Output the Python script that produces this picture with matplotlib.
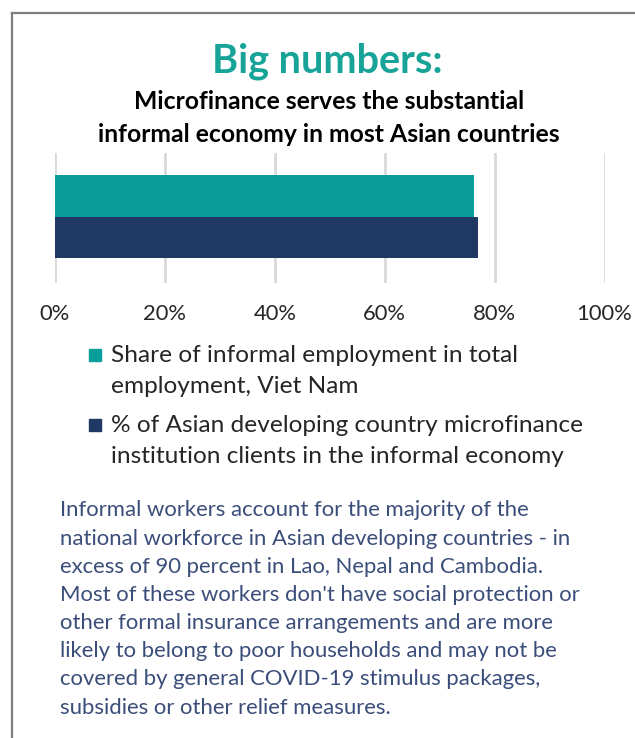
import matplotlib.pyplot as plt
from matplotlib.patches import Rectangle
from matplotlib.lines import Line2D

plt.rcParams['font.family'] = ['Lato', 'DejaVu Sans']

W, H = 635, 738

series = ["Share of informal employment in total\nemployment, Viet Nam",
          "% of Asian developing country microfinance\ninstitution clients in the informal economy"]
values = [76.2, 77.0]
colors = ["#0A9E9A", "#203864"]
ticks = [0, 20, 40, 60, 80, 100]
tick_labels = ["0%", "20%", "40%", "60%", "80%", "100%"]

title = "Big numbers:"
subtitle = "Microfinance serves the substantial\ninformal economy in most Asian countries"
note = ("Informal workers account for the majority of the\n"
        "national workforce in Asian developing countries - in\n"
        "excess of 90 percent in Lao, Nepal and Cambodia.\n"
        "Most of these workers don't have social protection or\n"
        "other formal insurance arrangements and are more\n"
        "likely to belong to poor households and may not be\n"
        "covered by general COVID-19 stimulus packages,\n"
        "subsidies or other relief measures.")


def fx(x):
    return x / W


def fy(y):
    return 1 - y / H


fig = plt.figure(figsize=(W / 100, H / 100), dpi=100)

# frame (only top and left visible)
fig.add_artist(Line2D([fx(12), fx(12)], [fy(13), 0], color="#7f7f7f", lw=1.6))
fig.add_artist(Line2D([fx(12), 1], [fy(13), fy(13)], color="#7f7f7f", lw=1.6))

fig.text(fx(327), fy(61), title, ha="center", va="center",
         color="#17A398", fontsize=28.5, fontweight="bold")
fig.text(fx(329), fy(118), subtitle, ha="center", va="center",
         color="black", fontsize=17.8, fontweight="bold", linespacing=1.49)

ax = fig.add_axes([fx(55), fy(283), fx(604.5) - fx(55), (283 - 153) / H])
ypos = [1, 0]
ax.barh(ypos, values, height=1.0, color=colors)
ax.set_xlim(0, 100)
ax.set_ylim(-1.11, 2.04)
ax.set_xticks(ticks)
ax.set_xticklabels(tick_labels, fontsize=15.8, color="#262626")
ax.set_yticks([])
ax.grid(axis="x", color="#d9d9d9", lw=2)
ax.set_axisbelow(True)
ax.tick_params(axis="x", length=0, pad=15)
for s in ax.spines.values():
    s.set_visible(False)

# legend
leg_y = [371, 441]
for y, c, lab in zip(leg_y, colors, series):
    fig.add_artist(Rectangle((fx(89), fy(y - 10)), 12 / W, 12 / H,
                             color=c, transform=fig.transFigure))
    fig.text(fx(111), fy(y), lab, ha="left", va="center",
             fontsize=17.6, color="#262626", linespacing=1.6)

fig.text(fx(60), fy(609), note, ha="left", va="center",
         fontsize=15.9, color="#3B4E7A", linespacing=1.51)

fig.savefig("out.png", dpi=100)
